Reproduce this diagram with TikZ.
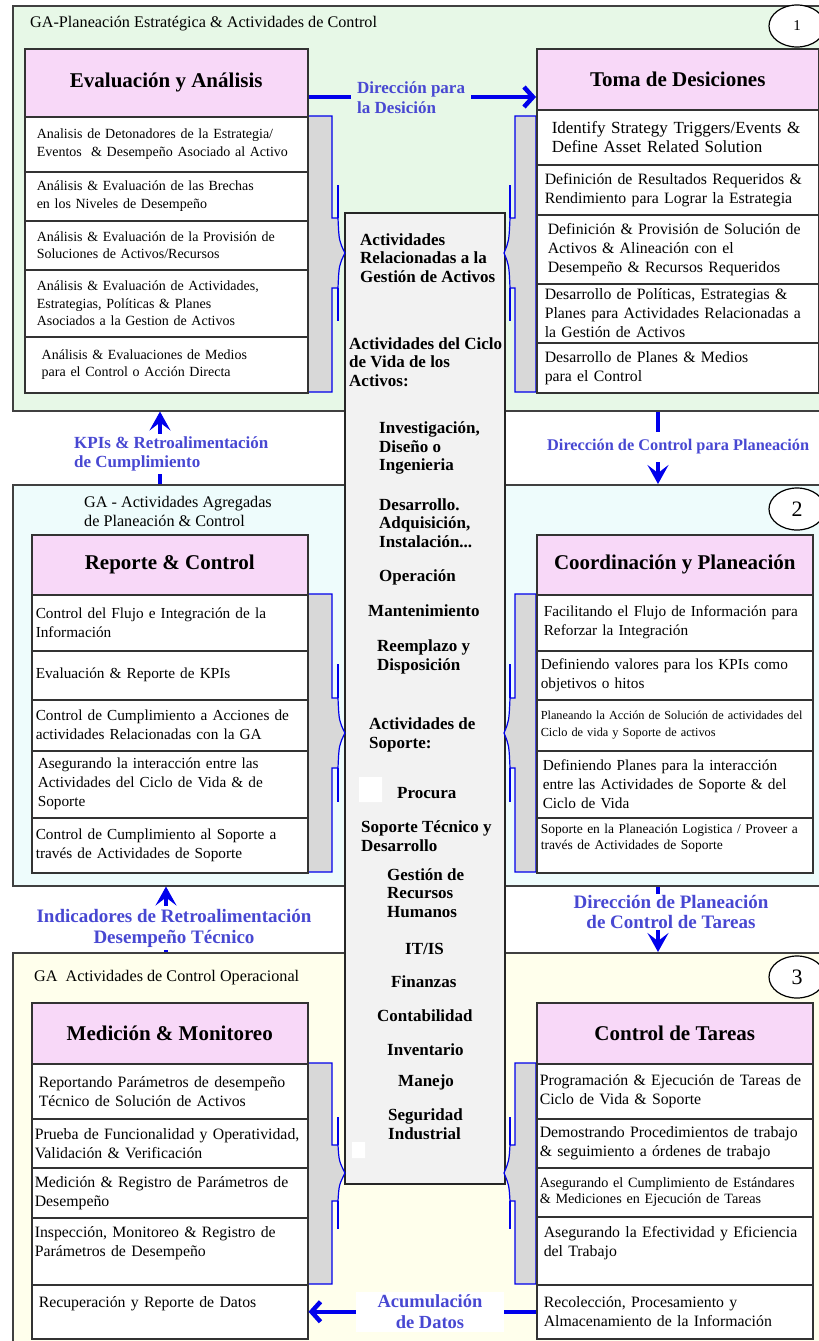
\documentclass[tikz,border=0pt]{standalone}
\usepackage{fontspec}
\setmainfont{Liberation Serif}
\usetikzlibrary{arrows.meta,shapes.geometric}

\definecolor{pgreen}{RGB}{231,248,231}
\definecolor{pcyan}{RGB}{238,252,252}
\definecolor{pyellow}{RGB}{255,255,236}
\definecolor{hpink}{RGB}{248,216,248}
\definecolor{bgray}{RGB}{216,216,216}
\definecolor{cgray}{RGB}{242,242,242}
\definecolor{ablue}{RGB}{0,0,235}
\definecolor{lblue}{RGB}{72,72,210}
\newcommand{\fsz}[2]{\fontsize{#1}{#2}\selectfont}

\begin{document}
\begin{tikzpicture}[x=1pt,y=-1pt]
	\tikzstyle{panelbox}=[draw=black!75,line width=1.5pt,anchor=north west,inner sep=0pt]
	\tikzstyle{paneltitle}=[anchor=west,align=left,inner sep=0pt,font=\fsz{16.2}{19}]
	\tikzstyle{oval}=[draw=black,line width=1.2pt,fill=white,shape=ellipse,minimum width=56pt,minimum height=42pt,inner sep=0pt]
	\tikzstyle{headbox}=[draw=black!80,line width=1.5pt,fill=hpink,anchor=north west,inner sep=0pt,font=\fsz{21}{24}\bfseries]
	\tikzstyle{itembox}=[draw=black!80,line width=1.5pt,fill=white,anchor=north west,align=left,inner ysep=0pt]
	\tikzstyle{colA}=[itembox,minimum width=283pt,inner xsep=12pt,text width=259pt,font=\fsz{14}{17.5}]
	\tikzstyle{colB}=[itembox,minimum width=282pt,inner xsep=8pt,text width=266pt,font=\fsz{15.8}{19}]
	\tikzstyle{colC}=[itembox,minimum width=276pt,inner xsep=4pt,text width=268pt,font=\fsz{15.3}{19}]
	\tikzstyle{colD}=[itembox,minimum width=276pt,inner xsep=3pt,text width=270pt,font=\fsz{15.8}{19}]
	\tikzstyle{bracefill}=[draw=ablue,line width=1.2pt,fill=bgray]
	\tikzstyle{braceline}=[draw=ablue,line width=1.2pt]
	\tikzstyle{coretext}=[anchor=west,align=left,inner sep=0pt,font=\fsz{17}{18.5}\bfseries]
	\tikzstyle{flowlabel}=[text=lblue,align=left,inner sep=3pt]
	\tikzstyle{flowup}=[draw=ablue,line width=4.5pt,-{Stealth[length=19pt,width=21pt,inset=8pt]}]
	\tikzstyle{flowside}=[draw=ablue,line width=4.5pt,-{Straight Barb[length=9pt,width=20pt]}]

	\useasboundingbox (0,0) rectangle (819,1341);
	\fill[white] (0,0) rectangle (819,1341);
	\clip (0,0) rectangle (819,1341);

	% the three levels
	\node[panelbox,fill=pgreen,minimum width=830pt,minimum height=405pt] (pan1) at (12,5) {};
	\node[panelbox,fill=pcyan,minimum width=830pt,minimum height=401pt] (pan2) at (12,484) {};
	\node[panelbox,fill=pyellow,minimum width=830pt,minimum height=420pt] (pan3) at (12,952) {};
	\node[paneltitle] (tit1) at (30,24) {GA-Planeación Estratégica \& Actividades de Control};
	\node[paneltitle] (tit2) at (84,511) {GA - Actividades Agregadas\\de Planeación \& Control};
	\node[paneltitle] (tit3) at (34,978) {GA\ \ Actividades de Control Operacional};
	\node[oval,font=\fsz{15}{17}] (num1) at (797,26) {1};
	\node[oval,font=\fsz{22}{24}] (num2) at (797,509) {2};
	\node[oval,font=\fsz{22}{24}] (num3) at (797,977) {3};

	% middle column
	\node[panelbox,draw=black!85,fill=cgray,minimum width=160pt,minimum height=971pt] (core) at (344,212) {};
	\fill[white] (359,777) rectangle (382,802) (352,1142) rectangle (365,1158);

	% braces
	\foreach \t/\b/\m/\n/\e in {116/392/253/35/68, 594/872/733/35/69, 1063/1284/1173/28/56} {
		\path[bracefill] (308,\t) -- (332,\t) -- (332,\m-\n) -- (338,\m-\n) .. controls (339,\m-12) .. (345,\m) .. controls (339,\m+12) .. (338,\m+\n) -- (332,\m+\n) -- (332,\b) -- (308,\b) -- cycle;
		\path[braceline] (338,\m-\e) -- (338,\m-\n) (338,\m+\n) -- (338,\m+\e);
		\path[bracefill] (536,\t) -- (515,\t) -- (515,\m-\n) -- (510,\m-\n) .. controls (509,\m-12) .. (504,\m) .. controls (509,\m+12) .. (510,\m+\n) -- (515,\m+\n) -- (515,\b) -- (536,\b) -- cycle;
		\path[braceline] (510,\m-\e) -- (510,\m-\n) (510,\m+\n) -- (510,\m+\e);
	}

	% level 1
	\node[headbox,minimum width=283pt,minimum height=68pt] (evalHead) at (24,48) {Evaluación y Análisis};
	\node[colA,minimum height=55pt] (eval1) at (24,116) {Analisis de Detonadores de la Estrategia/\\Eventos \ \& Desempeño Asociado al Activo};
	\node[colA,minimum height=49pt] (eval2) at (24,171) {Análisis \& Evaluación de las Brechas\\en los Niveles de Desempeño};
	\node[colA,minimum height=49pt] (eval3) at (24,220) {Análisis \& Evaluación de la Provisión de\\Soluciones de Activos/Recursos};
	\node[colA,minimum height=67pt] (eval4) at (24,269) {Análisis \& Evaluación de Actividades,\\Estrategias, Políticas \& Planes\\Asociados a la Gestion de Activos};
	\node[colA,minimum height=56pt] (eval5) at (24,336) {\hspace*{5pt}Análisis \& Evaluaciones de Medios\\\hspace*{5pt}para el Control o Acción Directa};

	\node[headbox,minimum width=282pt,minimum height=61pt] (tomaHead) at (536,48) {Toma de Desiciones};
	\node[colB,minimum height=55pt,font=\fsz{17}{19.5}] (toma1) at (536,109) {\hspace*{7pt}Identify Strategy Triggers/Events \&\\\hspace*{7pt}Define Asset Related Solution};
	\node[colB,minimum height=50pt] (toma2) at (536,164) {Definición de Resultados Requeridos \&\\Rendimiento para Lograr la Estrategia};
	\node[colB,minimum height=69pt] (toma3) at (536,214) {\hspace*{3pt}Definición \& Provisión de Solución de\\\hspace*{3pt}Activos \& Alineación con el\\\hspace*{3pt}Desempeño \& Recursos Requeridos};
	\node[colB,minimum height=59pt] (toma4) at (536,283) {Desarrollo de Políticas, Estrategias \&\\Planes para Actividades Relacionadas a\\la Gestión de Activos};
	\node[colB,minimum height=50pt] (toma5) at (536,342) {Desarrollo de Planes \& Medios\\para el Control};

	% level 2
	\node[headbox,minimum width=276pt,minimum height=60pt] (repHead) at (31,534) {Reporte \& Control};
	\node[colC,minimum height=56pt] (rep1) at (31,594) {Control del Flujo e Integración de la\\Información};
	\node[colC,minimum height=49pt] (rep2) at (31,650) {Evaluación \& Reporte de KPIs};
	\node[colC,minimum height=51pt] (rep3) at (31,699) {Control de Cumplimiento a Acciones de\\actividades Relacionadas con la GA};
	\node[colC,minimum height=67pt] (rep4) at (31,750) {\hspace*{2pt}Asegurando la interacción entre las\\\hspace*{2pt}Actividades del Ciclo de Vida \& de\\\hspace*{2pt}Soporte};
	\node[colC,minimum height=55pt] (rep5) at (31,817) {Control de Cumplimiento al Soporte a\\través de Actividades de Soporte};

	\node[headbox,minimum width=276pt,minimum height=60pt] (coordHead) at (536,534) {Coordinación y Planeación};
	\node[colC,minimum height=56pt] (coord1) at (536,594) {\hspace*{3pt}Facilitando el Flujo de Información para\\\hspace*{3pt}Reforzar la Integración};
	\node[colC,minimum height=49pt] (coord2) at (536,650) {Definiendo valores para los KPIs como\\objetivos o hitos};
	\node[colC,minimum height=51pt,font=\fsz{12.3}{16.5}] (coord3) at (536,699) {Planeando la Acción de Solución de actividades del\\Ciclo de vida y Soporte de activos};
	\node[colC,minimum height=67pt] (coord4) at (536,750) {\hspace*{2pt}Definiendo Planes para la interacción\\\hspace*{2pt}entre las Actividades de Soporte \& del\\\hspace*{2pt}Ciclo de Vida};
	\node[colC,minimum height=55pt,font=\fsz{13.5}{16.5}] (coord5) at (536,817) {Soporte en la Planeación Logistica / Proveer a\\través de Actividades de Soporte\\~};

	% level 3
	\node[headbox,minimum width=276pt,minimum height=61pt] (medHead) at (31,1002) {Medición \& Monitoreo};
	\node[colD,minimum height=55pt] (med1) at (31,1063) {\hspace*{4pt}Reportando Parámetros de desempeño\\\hspace*{4pt}Técnico de Solución de Activos};
	\node[colD,minimum height=49pt] (med2) at (31,1118) {Prueba de Funcionalidad y Operatividad,\\Validación \& Verificación};
	\node[colD,minimum height=50pt] (med3) at (31,1167) {Medición \& Registro de Parámetros de\\Desempeño};
	\node[colD,minimum height=67pt] (med4) at (31,1217) {Inspección, Monitoreo \& Registro de\\Parámetros de Desempeño\\~};
	\node[colD,minimum height=54pt] (med5) at (31,1284) {\hspace*{4pt}Recuperación y Reporte de Datos\\~};

	\node[headbox,minimum width=276pt,minimum height=61pt] (tarHead) at (536,1002) {Control de Tareas};
	\node[colD,minimum height=55pt] (tar1) at (536,1063) {Programación \& Ejecución de Tareas de\\Ciclo de Vida \& Soporte};
	\node[colD,minimum height=49pt] (tar2) at (536,1118) {Demostrando Procedimientos de trabajo\\\& seguimiento a órdenes de trabajo};
	\node[colD,minimum height=49pt,font=\fsz{14.2}{16.5}] (tar3) at (536,1167) {Asegurando el Cumplimiento de Estándares\\\& Mediciones en Ejecución de Tareas};
	\node[colD,minimum height=68pt] (tar4) at (536,1216) {\hspace*{4pt}Asegurando la Efectividad y Eficiencia\\\hspace*{4pt}del Trabajo\\~};
	\node[colD,minimum height=54pt] (tar5) at (536,1284) {\hspace*{4pt}Recolección, Procesamiento y\\\hspace*{4pt}Almacenamiento de la Información};

	% middle column texts
	\node[coretext] (core1) at (360,258) {Actividades\\Relacionadas a la\\Gestión de Activos};
	\node[coretext] (core2) at (349,362) {Actividades del Ciclo\\de Vida de los\\Activos:};
	\node[coretext] (core3) at (379,448) {Investigación,\\Diseño o\\Ingenieria};
	\node[coretext] (core4) at (379,523) {Desarrollo.\\Adquisición,\\Instalación...};
	\node[coretext] (core5) at (379,577) {Operación};
	\node[coretext] (core6) at (368,611) {Mantenimiento};
	\node[coretext] (core7) at (377,657) {Reemplazo y\\Disposición};
	\node[coretext] (core8) at (369,735) {Actividades de\\Soporte:};
	\node[coretext] (core9) at (397,793) {Procura};
	\node[coretext] (core10) at (361,836) {Soporte Técnico y\\Desarrollo};
	\node[coretext] (core11) at (387,893) {Gestión de\\Recursos\\Humanos};
	\node[coretext] (core12) at (405,949) {IT/IS};
	\node[coretext] (core13) at (391,982) {Finanzas};
	\node[coretext] (core14) at (377,1016) {Contabilidad};
	\node[coretext] (core15) at (387,1050) {Inventario};
	\node[coretext] (core16) at (398,1082) {Manejo};
	\node[coretext] (core17) at (388,1124) {Seguridad\\Industrial};

	% flows between blocks
	\coordinate (decY) at (0,97);
	\coordinate (kpiX) at (160,0);
	\coordinate (ctrlX) at (658,0);
	\coordinate (indX) at (166,0);
	\draw[flowside] (evalHead.east |- decY) -- (tomaHead.west |- decY);
	\draw[flowup] (pan2.north -| kpiX) -- (pan1.south -| kpiX);
	\draw[flowup] (pan1.south -| ctrlX) -- (pan2.north -| ctrlX);
	\draw[flowup] (pan3.north -| indX) -- (pan2.south -| indX);
	\draw[flowup] (pan2.south -| ctrlX) -- (pan3.north -| ctrlX);
	\draw[flowside] (tar5.west) -- (med5.east);
	\node[flowlabel,fill=pgreen,anchor=west,inner xsep=6pt,font=\fsz{17}{20}\bfseries] (decLbl) at (351,98) {Dirección para\\la Desición};
	\node[flowlabel,fill=white,anchor=west,font=\fsz{17}{18.5}\bfseries] (kpiLbl) at (71,454) {KPIs \& Retroalimentación\\de Cumplimiento};
	\node[flowlabel,fill=white,anchor=west,inner xsep=2pt,inner ysep=8pt,font=\fsz{16.3}{18}\bfseries] (ctrlLbl) at (545,447) {Dirección de Control para Planeación};
	\node[flowlabel,fill=white,align=center,font=\fsz{19}{21}\bfseries] (indLbl) at (174,928) {Indicadores de Retroalimentación\\Desempeño Técnico};
	\node[flowlabel,fill=white,align=center,inner ysep=1pt,font=\fsz{19}{20}\bfseries] (tarLbl) at (671,912) {Dirección de Planeación\\de Control de Tareas};
	\node[flowlabel,fill=white,align=center,minimum width=148pt,font=\fsz{18.5}{21}\bfseries] (acuLbl) at (430,1312) {Acumulación\\de Datos};
\end{tikzpicture}
\end{document}
